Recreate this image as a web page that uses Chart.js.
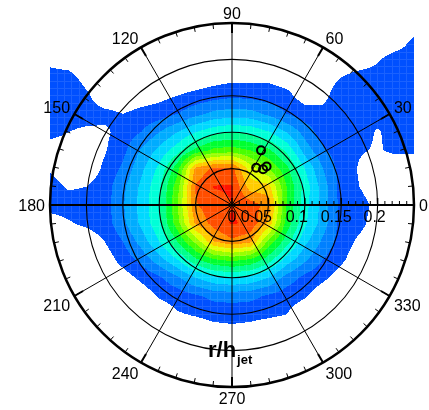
<!DOCTYPE html>
<html>
<head>
<meta charset="utf-8">
<script src="https://cdn.jsdelivr.net/npm/chart.js@4/dist/chart.umd.min.js"></script>
<style>
  html, body { margin: 0; padding: 0; background: #fff; }
  canvas { display: block; }
</style>
</head>
<body>
<canvas id="polarChart" width="429" height="410"></canvas>
<script>
// radial axis (r/h_jet) and angular axis (degrees)
const radialTicks = [0, 0.05, 0.1, 0.15, 0.2];
const ringRadii = [0.05, 0.1, 0.15, 0.2];
const outerRadius = 0.25;
const angleTicks = [0, 30, 60, 90, 120, 150, 180, 210, 240, 270, 300, 330];

// open circle markers (polar coordinates)
const markerR = [0.085, 0.061, 0.065, 0.071];
const markerTheta = [62, 57, 49, 48];

// contour levels; below the first level the field is left white
const levels = [1, 2, 3, 4, 5, 6, 7, 8, 9, 10, 11, 12, 13, 14];
const levelColors = ['#0050ff', '#0080ff', '#00acff', '#00d8ff', '#00ffd8', '#00ff8c', '#00ff30', '#48ff00',
  '#98ff00', '#e0ff00', '#ffcc00', '#ff9000', '#ff4e00', '#ff1400'];

// field samples, x left to right, rows from top (y = 0.25) to bottom (y = -0.25)
const gridX = [-0.25, -0.225, -0.2, -0.175, -0.15, -0.125, -0.1, -0.075, -0.05, -0.025, 0,
  0.025, 0.05, 0.075, 0.1, 0.125, 0.15, 0.175, 0.2, 0.225, 0.25];
const gridY = [0.25, 0.225, 0.2, 0.175, 0.15, 0.125, 0.1, 0.075, 0.05, 0.025, 0,
  -0.025, -0.05, -0.075, -0.1, -0.125, -0.15, -0.175, -0.2, -0.225, -0.25];
const fieldRows = [
  [0.3, 0.3, 0.3, 0.3, 0.3, 0.3, 0.3, 0.3, 0.3, 0.3, 0.3, 0.3, 0.3, 0.3, 0.3, 0.3, 0.3, 0.3, 0.3, 0.3, 0.3],
  [0.3, 0.3, 0.3, 0.3, 0.3, 0.3, 0.3, 0.3, 0.3, 0.3, 0.3, 0.3, 0.3, 0.3, 0.3, 0.3, 0.3, 0.3, 0.3, 0.5, 1.2],
  [0.7, 0.4, 0.3, 0.3, 0.3, 0.3, 0.3, 0.3, 0.3, 0.3, 0.3, 0.3, 0.3, 0.3, 0.3, 0.3, 0.3, 0.4, 0.9, 1.4, 1.4],
  [1.4, 1.4, 0.6, 0.3, 0.3, 0.3, 0.3, 0.3, 0.3, 0.5, 0.7, 0.7, 0.8, 0.5, 0.3, 0.4, 1.0, 1.4, 1.4, 2.0, 1.5],
  [1.9, 2.0, 1.2, 0.3, 0.3, 0.5, 0.7, 1.0, 1.3, 1.6, 1.8, 1.7, 1.5, 1.3, 0.5, 0.6, 1.8, 1.4, 1.4, 1.4, 1.4],
  [1.4, 1.4, 1.4, 1.3, 1.0, 1.3, 1.5, 2.0, 2.7, 3.3, 3.5, 3.4, 2.8, 2.0, 1.5, 1.4, 2.0, 1.4, 1.4, 1.4, 1.4],
  [1.4, 1.0, 0.8, 0.8, 1.4, 2.0, 3.0, 4.0, 5.0, 5.7, 6.0, 5.8, 5.1, 4.0, 2.6, 1.5, 1.4, 1.4, 0.9, 1.4, 1.4],
  [0.4, 0.3, 0.3, 0.9, 1.7, 3.1, 4.3, 5.6, 7.3, 8.3, 8.5, 8.0, 7.2, 5.8, 3.6, 2.2, 1.4, 1.1, 0.9, 1.2, 1.2],
  [0.9, 0.3, 0.3, 1.2, 2.2, 3.75, 5.25, 7.6, 12.3, 13.2, 13.3, 10.5, 9.0, 7.3, 5.0, 3.0, 1.6, 0.9, 0.3, 0.3, 0.3],
  [1.4, 0.9, 1.0, 1.5, 2.75, 4.2, 5.8, 8.6, 13.1, 14.05, 14.1, 11.5, 11.4, 8.0, 5.6, 3.5, 1.6, 1.0, 0.3, 0.3, 0.3],
  [1.4, 1.4, 1.4, 1.5, 2.9, 4.35, 5.95, 9.0, 12.9, 13.6, 14.0, 13.5, 12.6, 8.0, 5.4, 3.6, 1.6, 1.4, 0.7, 0.3, 0.3],
  [0.5, 0.9, 1.2, 1.5, 2.75, 4.2, 5.8, 8.6, 12.2, 13.4, 14.1, 13.8, 11.8, 7.6, 5.2, 3.5, 1.6, 1.3, 0.5, 0.3, 0.3],
  [0.3, 0.3, 0.4, 1.0, 2.0, 3.4, 5.0, 7.0, 9.3, 12.0, 12.8, 12.3, 8.7, 6.5, 4.3, 2.8, 1.5, 0.8, 0.3, 0.3, 0.3],
  [0.3, 0.3, 0.3, 0.4, 1.4, 2.3, 3.6, 5.0, 6.8, 7.9, 8.3, 7.9, 6.5, 4.6, 3.2, 2.0, 1.2, 0.4, 0.3, 0.3, 0.3],
  [0.3, 0.3, 0.3, 0.3, 0.5, 1.2, 1.8, 2.8, 4.0, 4.75, 5.0, 4.75, 4.0, 2.6, 1.7, 1.2, 0.5, 0.3, 0.3, 0.3, 0.3],
  [0.3, 0.3, 0.3, 0.3, 0.3, 0.4, 1.1, 1.4, 1.85, 2.3, 2.4, 2.3, 1.85, 1.4, 1.1, 0.4, 0.3, 0.3, 0.3, 0.3, 0.3],
  [0.3, 0.3, 0.3, 0.3, 0.3, 0.3, 0.4, 0.9, 1.1, 1.3, 1.35, 1.3, 1.2, 1.0, 0.4, 0.3, 0.3, 0.3, 0.3, 0.3, 0.3],
  [0.3, 0.3, 0.3, 0.3, 0.3, 0.3, 0.3, 0.3, 0.3, 0.6, 0.7, 0.6, 0.3, 0.3, 0.3, 0.3, 0.3, 0.3, 0.3, 0.3, 0.3],
  [0.3, 0.3, 0.3, 0.3, 0.3, 0.3, 0.3, 0.3, 0.3, 0.3, 0.3, 0.3, 0.3, 0.3, 0.3, 0.3, 0.3, 0.3, 0.3, 0.3, 0.3],
  [0.3, 0.3, 0.3, 0.3, 0.3, 0.3, 0.3, 0.3, 0.3, 0.3, 0.3, 0.3, 0.3, 0.3, 0.3, 0.3, 0.3, 0.3, 0.3, 0.3, 0.3],
  [0.3, 0.3, 0.3, 0.3, 0.3, 0.3, 0.3, 0.3, 0.3, 0.3, 0.3, 0.3, 0.3, 0.3, 0.3, 0.3, 0.3, 0.3, 0.3, 0.3, 0.3]
];

const FONT = '"Liberation Sans", Arial, Helvetica, sans-serif';

function hexToRgb(hex) {
  const n = parseInt(hex.slice(1), 16);
  return [(n >> 16) & 255, (n >> 8) & 255, n & 255];
}
const levelRgb = levelColors.map(hexToRgb);

// bilinear sample of the gridded field
function sampleField(xv, yv) {
  const dx = gridX[1] - gridX[0];
  const dy = gridY[0] - gridY[1];
  const fi = (xv - gridX[0]) / dx;
  const fj = (gridY[0] - yv) / dy;
  if (fi < 0 || fj < 0 || fi > gridX.length - 1 || fj > gridY.length - 1) return -1;
  const i = Math.min(Math.floor(fi), gridX.length - 2);
  const j = Math.min(Math.floor(fj), gridY.length - 2);
  const tx = fi - i, ty = fj - j;
  const r0 = fieldRows[j], r1 = fieldRows[j + 1];
  const top = r0[i] * (1 - tx) + r0[i + 1] * tx;
  const bot = r1[i] * (1 - tx) + r1[i + 1] * tx;
  return top * (1 - ty) + bot * ty;
}

function drawField(ctx, ca, xs, ys) {
  const w = Math.round(ca.right - ca.left);
  const h = Math.round(ca.bottom - ca.top);
  const off = document.createElement('canvas');
  off.width = w; off.height = h;
  const octx = off.getContext('2d');
  const img = octx.createImageData(w, h);
  // faint mesh lines of the measurement grid (every 0.01)
  const meshPx = xs.getPixelForValue(0.01) - xs.getPixelForValue(0);
  const x0 = xs.getPixelForValue(0) - ca.left;
  const y0 = ys.getPixelForValue(0) - ca.top;
  const onMesh = (p, o) => {
    const m = ((p + 0.5 - o) / meshPx) % 1;
    const d = Math.min(Math.abs(m), 1 - Math.abs(m)) * meshPx;
    return d < 0.5;
  };
  for (let py = 0; py < h; py++) {
    const yv = ys.getValueForPixel(ca.top + py + 0.5);
    const rowMesh = onMesh(py, y0);
    for (let px = 0; px < w; px++) {
      const xv = xs.getValueForPixel(ca.left + px + 0.5);
      const v = sampleField(xv, yv);
      let k = -1;
      for (let l = 0; l < levels.length; l++) {
        if (v >= levels[l]) k = l;
      }
      if (k < 0) continue;
      const c = levelRgb[k];
      const f = (rowMesh || onMesh(px, x0)) ? 0.1 : 0;
      const p = (py * w + px) * 4;
      img.data[p] = c[0] + (255 - c[0]) * f;
      img.data[p + 1] = c[1] + (255 - c[1]) * f;
      img.data[p + 2] = c[2] + (255 - c[2]) * f;
      img.data[p + 3] = 255;
    }
  }
  octx.putImageData(img, 0, 0);
  ctx.drawImage(off, ca.left, ca.top);
}

function drawGrid(ctx, xs, ys) {
  const cx = xs.getPixelForValue(0);
  const cy = ys.getPixelForValue(0);
  const pr = r => xs.getPixelForValue(r) - cx;
  const R = pr(outerRadius);

  ctx.save();
  ctx.strokeStyle = '#000';

  // rings
  ctx.lineWidth = 1.1;
  ringRadii.forEach(r => {
    ctx.beginPath();
    ctx.arc(cx, cy, pr(r), 0, Math.PI * 2);
    ctx.stroke();
  });

  // rays
  angleTicks.forEach(a => {
    const t = a * Math.PI / 180;
    ctx.lineWidth = (a === 0 || a === 180) ? 2.2 : 1;
    ctx.beginPath();
    ctx.moveTo(cx, cy);
    ctx.lineTo(cx + R * Math.cos(t), cy - R * Math.sin(t));
    ctx.stroke();
  });

  // outer circle
  ctx.lineWidth = 2.5;
  ctx.beginPath();
  ctx.arc(cx, cy, R, 0, Math.PI * 2);
  ctx.stroke();

  // angular ticks, every 6 degrees, inward
  for (let a = 0; a < 360; a += 6) {
    const t = a * Math.PI / 180;
    const major = a % 30 === 0;
    const len = major ? 10 : 5;
    ctx.lineWidth = major ? 2 : 1;
    ctx.beginPath();
    ctx.moveTo(cx + R * Math.cos(t), cy - R * Math.sin(t));
    ctx.lineTo(cx + (R - len) * Math.cos(t), cy - (R - len) * Math.sin(t));
    ctx.stroke();
  }

  // radial axis ticks along the 0 degree ray
  for (let k = 0; k <= 25; k++) {
    const x = xs.getPixelForValue(k * 0.01);
    const major = k % 5 === 0;
    ctx.lineWidth = major ? 1.5 : 1;
    ctx.beginPath();
    ctx.moveTo(x, cy);
    ctx.lineTo(x, cy - (major ? 7 : 4));
    ctx.stroke();
  }

  // radial tick labels
  ctx.fillStyle = '#000';
  ctx.font = '16px ' + FONT;
  ctx.textAlign = 'center';
  ctx.textBaseline = 'alphabetic';
  const radialLabelShift = [0, -12, -8, -5, -3];
  radialTicks.forEach((r, i) => {
    ctx.fillText(String(r), xs.getPixelForValue(r) + radialLabelShift[i], cy + 17);
  });

  // angle labels just outside the outer circle
  const RL = R + 5;
  angleTicks.forEach(a => {
    const t = a * Math.PI / 180;
    const ax = cx + RL * Math.cos(t);
    const ay = cy - RL * Math.sin(t);
    let align, base;
    if (a === 0) { align = 'left'; base = ay + 6; }
    else if (a === 180) { align = 'right'; base = ay + 6; }
    else if (a === 90) { align = 'center'; base = ay + 1; }
    else if (a === 270) { align = 'center'; base = ay + 12; }
    else if (a < 90) { align = 'left'; base = ay + 1; }
    else if (a < 180) { align = 'right'; base = ay + 1; }
    else if (a < 270) { align = 'right'; base = ay + 12; }
    else { align = 'left'; base = ay + 12; }
    ctx.textAlign = align;
    ctx.fillText(String(a), ax, base);
  });

  // axis title r/h_jet
  ctx.textAlign = 'left';
  ctx.font = 'bold 22px ' + FONT;
  ctx.fillText('r/h', cx - 24, cy + 152);
  const wr = ctx.measureText('r/h').width;
  ctx.font = 'bold 13px ' + FONT;
  ctx.fillText('jet', cx - 24 + wr + 1, cy + 159);

  ctx.restore();
}

const polarPlot = {
  id: 'polarPlot',
  beforeDatasetsDraw(chart) {
    const { ctx, chartArea, scales } = chart;
    drawField(ctx, chartArea, scales.x, scales.y);
    drawGrid(ctx, scales.x, scales.y);
  }
};

const markerPoints = markerR.map((r, i) => {
  const t = markerTheta[i] * Math.PI / 180;
  return { x: r * Math.cos(t), y: r * Math.sin(t) };
});

new Chart(document.getElementById('polarChart'), {
  type: 'scatter',
  data: {
    datasets: [{
      data: markerPoints,
      pointStyle: 'circle',
      pointRadius: 4,
      pointHoverRadius: 4,
      borderWidth: 2,
      borderColor: '#000',
      backgroundColor: 'rgba(0,0,0,0)'
    }]
  },
  options: {
    responsive: false,
    animation: false,
    devicePixelRatio: 1,
    layout: { padding: { left: 50, top: 23, right: 15, bottom: 23 } },
    scales: {
      x: { type: 'linear', min: -0.25, max: 0.25, display: false },
      y: { type: 'linear', min: -0.25, max: 0.25, display: false }
    },
    plugins: {
      legend: { display: false },
      tooltip: { enabled: false }
    }
  },
  plugins: [polarPlot]
});
</script>
</body>
</html>
